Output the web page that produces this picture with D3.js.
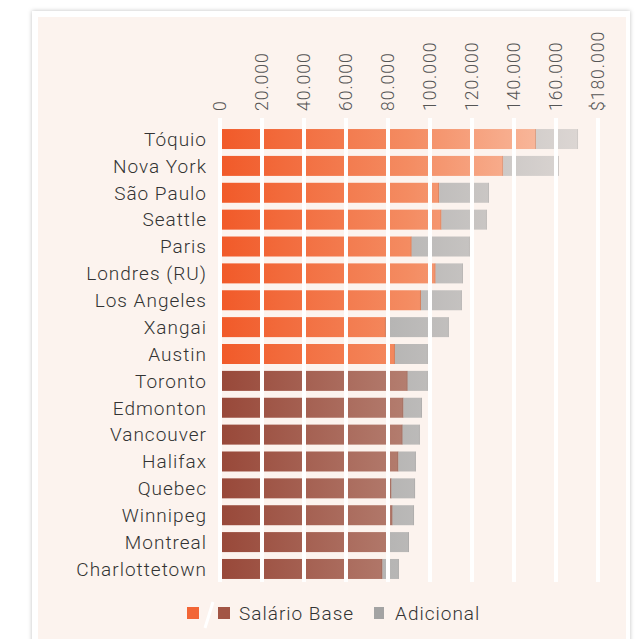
<!DOCTYPE html>
<html>
<head>
<meta charset="utf-8">
<script src="https://cdn.jsdelivr.net/npm/d3@7"></script>
<style>
  body { margin: 0; background: #ffffff; }
  svg { display: block; }
</style>
</head>
<body>
<script>
const width = 638;
const height = 639;

const cities = ["Tóquio", "Nova York", "São Paulo", "Seattle", "Paris", "Londres (RU)",
  "Los Angeles", "Xangai", "Austin", "Toronto", "Edmonton", "Vancouver", "Halifax",
  "Quebec", "Winnipeg", "Montreal", "Charlottetown"];
const baseSalary = [150500, 134900, 104400, 105500, 91300, 102700, 95700, 79000, 83300,
  89400, 87400, 87000, 85000, 81700, 82200, 80000, 77400];
const extra = [20000, 26500, 23700, 21600, 27700, 13000, 19500, 30000, 15700,
  9600, 8800, 8200, 8300, 11200, 10200, 10000, 7800];
const canadian = [false, false, false, false, false, false, false, false, false,
  true, true, true, true, true, true, true, true];
const ticks = [0, 20000, 40000, 60000, 80000, 100000, 120000, 140000, 160000, 180000];
const legendLabels = ["Salário Base", "Adicional"];

const font = "Roboto, 'DejaVu Sans', sans-serif";

const svg = d3.select("body").append("svg")
  .attr("width", width)
  .attr("height", height);

const defs = svg.append("defs");

const shadow = defs.append("filter").attr("id", "shadow")
  .attr("x", "-5%").attr("y", "-5%").attr("width", "110%").attr("height", "110%");
shadow.append("feDropShadow")
  .attr("dx", 0).attr("dy", 0).attr("stdDeviation", 2)
  .attr("flood-color", "#000").attr("flood-opacity", 0.25);

const x = d3.scaleLinear().domain([0, 180000]).range([220, 598]);
const y = d3.scaleBand().domain(cities).range([125.6, 582.4])
  .paddingInner(0.256).paddingOuter(0.128);

function gradient(id, stops) {
  const g = defs.append("linearGradient").attr("id", id)
    .attr("gradientUnits", "userSpaceOnUse")
    .attr("x1", x(0)).attr("x2", x(180000)).attr("y1", 0).attr("y2", 0);
  stops.forEach(([o, c]) => g.append("stop").attr("offset", o).attr("stop-color", c));
}
gradient("orange", [[0, "#f15a29"], [0.5, "#f48c62"], [0.83, "#f8b598"], [1, "#fac6ae"]]);
gradient("brown", [[0, "#984839"], [0.5, "#b47e70"], [1, "#c9a296"]]);
gradient("gray", [[0, "#a9a8a7"], [0.45, "#b6b5b4"], [0.95, "#dcd6d3"], [1, "#ded9d6"]]);

// card
svg.append("rect")
  .attr("x", 32).attr("y", 11).attr("width", 598).attr("height", 660)
  .attr("fill", "#ffffff").attr("filter", "url(#shadow)");
svg.append("rect")
  .attr("x", 38).attr("y", 17).attr("width", 588).attr("height", 660)
  .attr("fill", "#fcf3ee");

const rows = svg.append("g").selectAll("g")
  .data(cities.map((c, i) => ({ city: c, base: baseSalary[i], extra: extra[i], ca: canadian[i] })))
  .join("g")
  .attr("transform", d => `translate(0,${y(d.city)})`);

rows.append("rect")
  .attr("x", x(0))
  .attr("width", d => x(d.base) - x(0))
  .attr("height", y.bandwidth())
  .attr("fill", d => d.ca ? "url(#brown)" : "url(#orange)");

rows.append("rect")
  .attr("x", d => x(d.base))
  .attr("width", d => x(d.base + d.extra) - x(d.base))
  .attr("height", y.bandwidth())
  .attr("fill", "url(#gray)");

// thin darker edges at segment ends
rows.append("rect")
  .attr("x", d => x(d.base) - 1)
  .attr("width", 1)
  .attr("height", y.bandwidth())
  .attr("fill", "#000").attr("opacity", 0.12);
rows.append("rect")
  .attr("x", d => x(d.base + d.extra) - 1)
  .attr("width", 1)
  .attr("height", y.bandwidth())
  .attr("fill", "#000").attr("opacity", 0.06);

rows.append("text")
  .attr("x", 207)
  .attr("y", y.bandwidth() / 2)
  .attr("dy", "0.36em")
  .attr("text-anchor", "end")
  .attr("font-family", font)
  .attr("font-weight", 300)
  .attr("font-size", 19)
  .attr("letter-spacing", 1)
  .attr("fill", "#333333")
  .text(d => d.city);

// white gridlines over the bars
svg.append("g").selectAll("line")
  .data(ticks)
  .join("line")
  .attr("x1", d => x(d)).attr("x2", d => x(d))
  .attr("y1", 118).attr("y2", 582)
  .attr("stroke", "#ffffff")
  .attr("stroke-width", 4);

const fmt = d3.format(",");
svg.append("g").selectAll("text")
  .data(ticks)
  .join("text")
  .attr("transform", d => `translate(${x(d)},111) rotate(-90)`)
  .attr("dy", "0.36em")
  .attr("text-anchor", "start")
  .attr("font-family", font)
  .attr("font-weight", 300)
  .attr("font-size", 17.5)
  .attr("letter-spacing", 1)
  .attr("fill", "#555555")
  .text((d, i) => (i === ticks.length - 1 ? "$" : "") + fmt(d).replace(/,/g, "."));

// legend
const legend = svg.append("g");
legend.append("rect").attr("x", 187).attr("y", 607).attr("width", 12).attr("height", 12).attr("fill", "#f26535");
legend.append("line").attr("x1", 213).attr("y1", 602).attr("x2", 205).attr("y2", 628)
  .attr("stroke", "#ffffff").attr("stroke-width", 3);
legend.append("rect").attr("x", 218).attr("y", 607).attr("width", 12).attr("height", 12).attr("fill", "#a25545");
legend.append("text").attr("x", 239).attr("y", 620)
  .attr("font-family", font).attr("font-weight", 300).attr("font-size", 19)
  .attr("letter-spacing", 1).attr("fill", "#333333")
  .text(legendLabels[0]);
legend.append("rect").attr("x", 374).attr("y", 607).attr("width", 10).attr("height", 12).attr("fill", "#a3a3a3");
legend.append("text").attr("x", 395).attr("y", 620)
  .attr("font-family", font).attr("font-weight", 300).attr("font-size", 19)
  .attr("letter-spacing", 1).attr("fill", "#333333")
  .text(legendLabels[1]);
</script>
</body>
</html>
